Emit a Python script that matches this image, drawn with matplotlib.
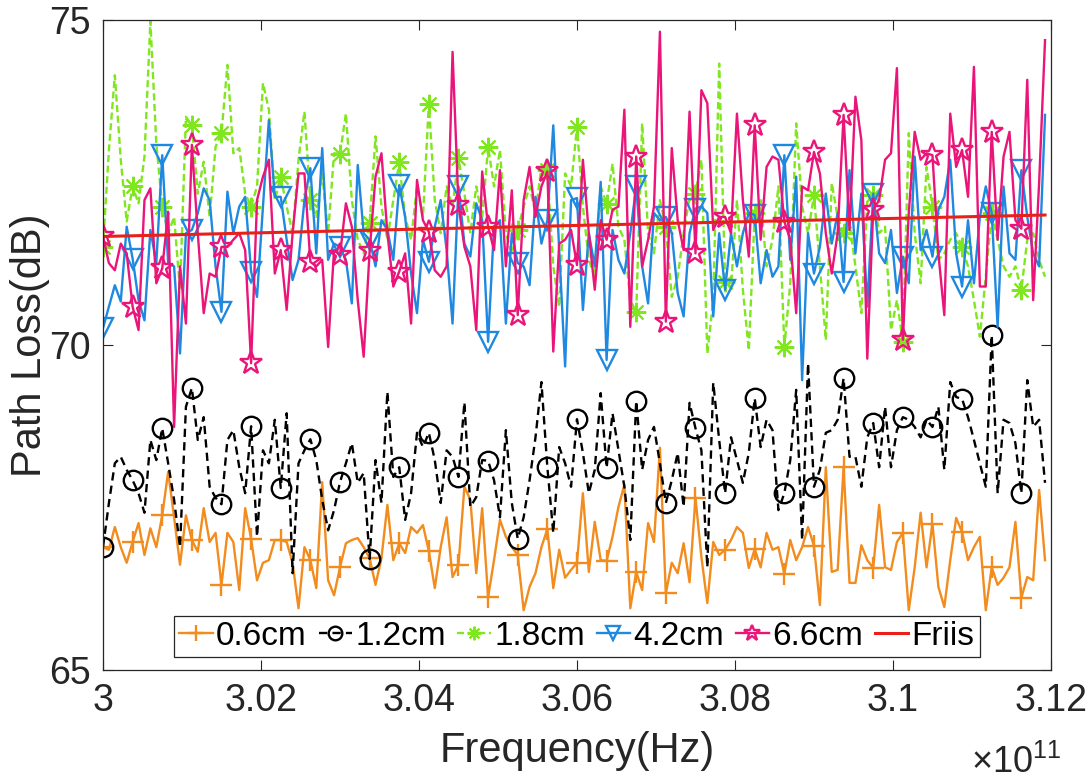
import numpy as np
import matplotlib.pyplot as plt
from matplotlib.ticker import FuncFormatter

plt.rcParams['font.family'] = ['Liberation Sans', 'DejaVu Sans']
plt.rcParams['mathtext.fontset'] = 'custom'
plt.rcParams['mathtext.rm'] = 'Liberation Sans'

# frequency sweep: 300 GHz, 75 MHz step, 160 samples
f_start = 300e9
f_step = 75e6
n_pts = 160

pl_06 = [66.89, 66.85, 67.20, 66.89, 66.65, 66.97, 67.26, 66.77, 67.18, 66.89,
         67.38, 68.05, 67.35, 66.62, 67.38, 67.00, 66.82, 67.49, 66.97, 67.11,
         66.31, 67.11, 66.97, 66.23, 67.49, 67.02, 66.38, 66.65, 66.69, 67.00,
         67.00, 66.97, 66.65, 65.95, 66.89, 66.69, 66.26, 67.89, 66.38, 66.15,
         66.58, 66.95, 67.00, 67.03, 66.89, 66.72, 66.31, 66.72, 67.54, 66.69,
         66.95, 66.80, 67.20, 67.11, 67.23, 66.83, 66.26, 66.89, 67.35, 66.43,
         66.62, 67.82, 67.62, 66.49, 67.49, 66.12, 66.69, 67.31, 67.05, 66.89,
         66.77, 65.92, 66.28, 66.49, 66.89, 67.17, 66.26, 66.85, 66.42, 66.54,
         66.65, 67.72, 66.51, 67.28, 66.69, 66.68, 67.05, 67.51, 67.85, 65.95,
         66.51, 66.23, 67.26, 66.97, 68.42, 66.18, 66.65, 66.49, 66.95, 66.35,
         67.65, 66.74, 66.03, 66.97, 66.77, 66.85, 67.00, 67.20, 67.11, 66.57,
         66.86, 66.58, 67.11, 66.85, 66.89, 66.48, 67.00, 66.69, 66.89, 67.20,
         66.91, 66.00, 68.12, 66.51, 66.54, 68.12, 66.34, 66.34, 66.92, 66.69,
         66.57, 67.54, 66.58, 66.54, 66.97, 67.11, 65.92, 66.58, 67.42, 66.58,
         67.25, 66.28, 65.97, 66.69, 67.34, 67.12, 66.69, 66.89, 67.05, 65.92,
         66.58, 66.31, 66.42, 66.58, 67.28, 66.11, 66.43, 66.38, 67.77, 66.69]

pl_12 = [66.89, 67.57, 68.18, 68.28, 68.08, 67.92, 67.72, 67.42, 68.54, 68.23,
         68.72, 68.18, 67.62, 66.89, 69.05, 69.34, 68.54, 68.89, 67.82, 67.65,
         67.55, 68.54, 68.69, 68.12, 67.72, 68.75, 67.05, 68.38, 68.18, 68.85,
         67.80, 68.95, 66.49, 68.18, 68.38, 68.55, 68.23, 67.62, 67.15, 67.46,
         67.89, 68.18, 68.49, 67.88, 68.03, 66.71, 68.23, 67.57, 69.28, 67.97,
         68.12, 67.31, 67.72, 68.65, 68.43, 68.65, 68.23, 67.57, 68.38, 68.28,
         67.97, 69.12, 67.51, 67.66, 68.23, 68.22, 67.92, 67.35, 68.69, 67.57,
         67.02, 67.35, 67.92, 68.58, 69.43, 68.12, 67.11, 68.43, 68.18, 67.82,
         68.86, 68.34, 67.72, 68.08, 69.26, 68.11, 68.95, 68.38, 67.82, 67.00,
         69.14, 68.08, 68.54, 68.74, 68.18, 67.57, 67.92, 68.34, 67.51, 69.11,
         68.72, 68.38, 66.58, 69.42, 68.54, 67.72, 68.58, 68.23, 67.88, 68.34,
         69.18, 68.43, 68.85, 68.69, 67.46, 67.72, 68.23, 69.31, 67.00, 69.72,
         67.82, 68.08, 68.65, 68.69, 68.85, 69.49, 68.28, 68.28, 67.82, 68.58,
         68.80, 68.12, 69.05, 68.12, 68.69, 68.89, 68.85, 68.74, 68.58, 68.85,
         68.74, 69.05, 68.08, 69.43, 69.20, 69.17, 68.89, 68.54, 68.18, 67.82,
         70.15, 67.72, 68.85, 68.80, 68.49, 67.72, 69.46, 68.74, 68.85, 67.88]

pl_18 = [71.51, 73.00, 74.15, 72.85, 71.90, 72.44, 72.18, 72.90, 74.98, 73.10,
         72.13, 71.72, 71.97, 70.85, 73.51, 73.38, 72.33, 72.82, 71.97, 73.05,
         73.26, 74.31, 72.95, 73.03, 72.33, 72.13, 72.44, 74.03, 73.62, 72.23,
         72.59, 72.13, 71.72, 72.85, 73.59, 72.23, 71.97, 72.64, 71.72, 72.95,
         72.94, 73.56, 72.23, 71.62, 71.41, 71.88, 73.21, 72.13, 71.62, 72.23,
         72.81, 71.97, 71.62, 72.44, 71.97, 73.71, 72.23, 71.72, 72.44, 72.13,
         72.87, 72.33, 71.72, 72.44, 71.97, 73.05, 72.44, 73.00, 71.72, 71.41,
         71.77, 72.13, 72.44, 72.03, 72.74, 72.69, 71.21, 70.59, 72.64, 72.44,
         73.36, 72.13, 71.31, 71.05, 72.44, 72.17, 72.79, 71.82, 71.62, 70.69,
         70.51, 73.41, 71.72, 71.41, 72.23, 71.82, 70.74, 71.05, 71.72, 72.28,
         72.33, 72.85, 69.87, 70.69, 74.33, 70.97, 70.90, 72.23, 70.85, 69.92,
         72.03, 72.23, 71.21, 71.62, 72.44, 69.97, 70.95, 73.41, 72.13, 71.72,
         72.31, 71.21, 70.08, 72.49, 71.97, 71.72, 71.87, 71.21, 70.49, 72.23,
         72.31, 71.72, 71.82, 70.23, 70.69, 70.05, 73.26, 71.72, 70.95, 72.74,
         72.13, 71.31, 71.41, 71.62, 71.72, 71.51, 71.21, 70.69, 70.13, 71.05,
         72.03, 71.62, 71.21, 71.05, 71.21, 70.85, 71.62, 71.72, 71.31, 71.05]

pl_42 = [70.26, 70.59, 70.92, 70.67, 71.82, 71.33, 70.69, 70.38, 71.77, 71.26,
         72.92, 71.26, 71.21, 69.87, 71.72, 71.77, 72.03, 72.41, 72.23, 71.21,
         70.51, 72.36, 71.72, 72.13, 72.28, 71.13, 70.74, 72.13, 73.46, 72.28,
         72.28, 71.62, 71.00, 71.31, 72.23, 72.72, 71.41, 73.03, 71.31, 71.56,
         71.51, 71.31, 70.64, 72.77, 71.72, 71.62, 71.21, 71.92, 71.77, 71.31,
         72.46, 71.97, 71.10, 70.49, 71.62, 71.28, 71.82, 72.23, 71.46, 70.33,
         72.44, 71.56, 71.36, 72.18, 71.92, 70.05, 71.82, 71.92, 70.33, 71.72,
         71.26, 71.21, 70.92, 72.28, 71.56, 71.92, 73.38, 71.46, 69.67, 72.23,
         72.26, 70.54, 71.72, 71.21, 72.51, 69.77, 71.77, 71.31, 71.10, 71.72,
         72.44, 71.21, 70.64, 72.03, 71.92, 71.97, 71.72, 70.80, 70.44, 71.72,
         72.10, 72.13, 72.03, 70.44, 71.72, 70.85, 71.72, 71.21, 71.72, 72.03,
         72.00, 70.95, 71.46, 71.05, 71.21, 72.92, 71.31, 72.59, 69.46, 71.72,
         71.10, 71.51, 72.33, 71.56, 72.03, 70.97, 72.69, 71.41, 72.33, 70.59,
         72.33, 71.41, 71.26, 71.77, 70.80, 71.36, 70.95, 72.90, 71.46, 71.77,
         71.36, 72.08, 72.28, 72.85, 71.41, 70.90, 71.92, 70.95, 71.97, 72.44,
         72.03, 70.28, 72.44, 71.41, 71.31, 72.69, 71.97, 71.41, 71.21, 73.54]

pl_66 = [71.67, 71.26, 71.15, 71.56, 71.41, 70.59, 70.23, 72.23, 72.41, 70.95,
         71.18, 72.05, 68.74, 71.21, 70.33, 73.08, 71.72, 70.49, 71.10, 71.05,
         71.51, 71.51, 71.62, 71.72, 71.46, 69.72, 72.23, 72.59, 72.85, 71.10,
         71.46, 70.54, 71.72, 72.64, 72.64, 71.28, 71.21, 71.31, 69.97, 71.46,
         71.38, 72.18, 71.82, 70.69, 69.82, 71.44, 72.59, 72.95, 71.72, 70.90,
         71.13, 71.41, 70.33, 72.54, 71.92, 71.74, 71.15, 71.05, 71.21, 74.51,
         72.15, 71.51, 71.21, 70.23, 72.67, 71.82, 71.46, 72.69, 71.21, 72.38,
         70.46, 72.23, 72.74, 71.97, 72.44, 72.67, 69.90, 71.56, 71.62, 71.77,
         71.23, 72.85, 71.72, 70.85, 71.92, 71.62, 72.08, 72.13, 73.62, 70.28,
         72.90, 71.21, 71.62, 72.13, 74.82, 70.36, 73.03, 71.92, 71.46, 73.59,
         71.41, 73.92, 73.72, 71.77, 71.97, 71.97, 71.72, 73.56, 72.23, 71.36,
         73.38, 71.62, 72.74, 72.90, 72.85, 71.90, 71.62, 70.49, 72.44, 72.38,
         72.97, 72.64, 71.72, 71.10, 71.72, 73.54, 71.77, 73.82, 73.15, 69.79,
         72.08, 72.23, 72.85, 72.95, 74.26, 70.08, 72.03, 73.28, 72.85, 72.95,
         72.92, 71.41, 70.46, 73.56, 72.74, 73.00, 72.28, 74.28, 70.90, 70.90,
         73.28, 71.62, 72.90, 73.28, 71.92, 71.79, 74.08, 70.69, 72.49, 74.69]

friis_freq = [3.0e11, 3.06e11, 3.11925e11]
friis_db = [71.67, 71.84, 72.00]

labels = ['0.6cm', '1.2cm', '1.8cm', '4.2cm', '6.6cm', 'Friis']

freq = f_start + f_step * np.arange(n_pts)

fig = plt.figure(figsize=(10.91, 7.82), dpi=100)
ax = fig.add_axes([0.0944, 0.1432, 0.8689, 0.8312])

lw = 1.7
ax.plot(freq, pl_06, color='#F28C1E', lw=lw, marker='+', ms=16, mew=1.7,
        markevery=5, label=labels[0])
ax.plot(freq, pl_12, color='black', lw=lw, ls=(0, (3.5, 2.2)), marker='o', ms=14,
        mfc='none', mew=1.7, markevery=5, label=labels[1])
ax.plot(freq, pl_18, color='#80E620', lw=lw, ls=(0, (3, 1.5)), marker=(8, 2, 0),
        ms=14, mew=1.5, markevery=5, label=labels[2])
ax.plot(freq, pl_42, color='#1F88E0', lw=lw, marker='v', ms=15, mfc='none',
        mew=1.7, markevery=5, label=labels[3])
ax.plot(freq, pl_66, color='#EB1478', lw=lw, marker='*', ms=17, mfc='none',
        mew=1.7, markevery=5, label=labels[4])
ax.plot(friis_freq, friis_db, color='#E8201A', lw=2.2, label=labels[5])

ax.set_xlim(3.0e11, 3.12e11)
ax.set_ylim(65, 75)
ax.set_xticks(np.arange(3.0e11, 3.1201e11, 0.02e11))
ax.set_yticks([65, 70, 75])
ax.xaxis.set_major_formatter(FuncFormatter(lambda v, _: f'{v / 1e11:g}'))

ax.tick_params(direction='in', length=7, width=0.8, colors='#262626',
               labelsize=27, top=True, right=True, pad=9)
for s in ax.spines.values():
    s.set_color('#262626')
    s.set_linewidth(0.9)

ax.set_xlabel('Frequency(Hz)', fontsize=30, color='#262626')
ax.set_ylabel('Path Loss(dB)', fontsize=30, color='#262626')
ax.xaxis.set_label_coords(0.5, -0.094)
ax.yaxis.set_label_coords(-0.056, 0.5)

fig.text(0.89, 0.012, r'$\times10^{11}$', fontsize=26, color='#262626',
         va='baseline')

leg = ax.legend(loc='lower center', bbox_to_anchor=(0.5, 0.02), ncol=6,
                fontsize=24, handlelength=1.0, handletextpad=0.1,
                columnspacing=0.35, borderpad=0.15, borderaxespad=0.0,
                markerscale=0.7, fancybox=False, framealpha=1)
leg.get_frame().set_edgecolor('#262626')
leg.get_frame().set_linewidth(0.9)

fig.savefig('out.png', dpi=100)
